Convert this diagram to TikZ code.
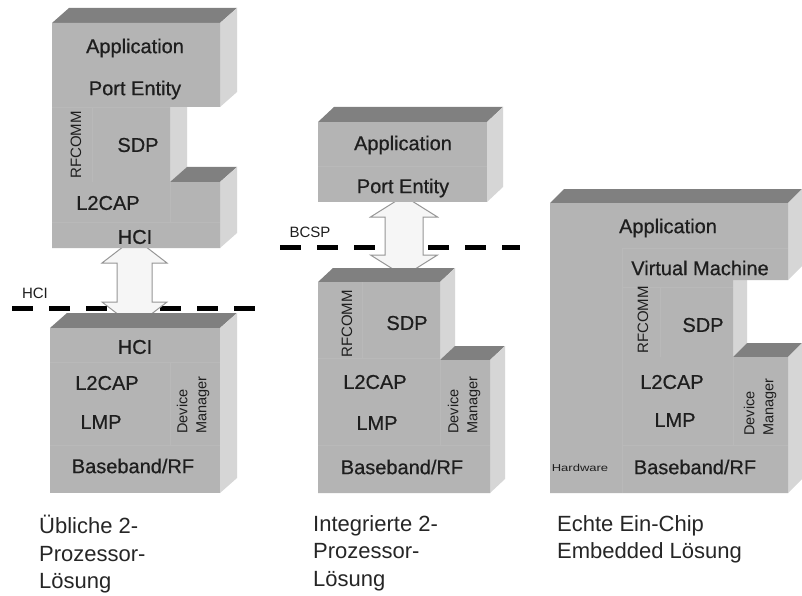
\documentclass[tikz,border=0pt]{standalone}
\usepackage{fontspec}
\setmainfont{Liberation Sans}
\newfontfamily\heavyfont{Liberation Sans}[FakeBold=0.6]
\usetikzlibrary{calc}
\definecolor{frontc}{RGB}{180,180,180}
\definecolor{topc}{RGB}{128,128,128}
\definecolor{sidec}{RGB}{214,214,214}
\definecolor{linec}{RGB}{185,185,185}
\definecolor{txtc}{RGB}{30,30,30}
\definecolor{arrc}{RGB}{150,150,150}
\definecolor{arrfill}{RGB}{246,246,246}
\tikzset{
  frontface/.style={fill=frontc, draw=none},
  topface/.style={fill=topc, draw=none},
  sideface/.style={fill=sidec, draw=none},
  faint/.style={draw=linec, line width=0.6},
  lbl/.style={font=\heavyfont\fontsize{20}{22}\selectfont, text=txtc, inner sep=0},
  smalllbl/.style={font=\fontsize{14.5}{19}\selectfont, text=txtc, inner sep=0, rotate=90, align=left},
  ifacelbl/.style={font=\fontsize{15}{17}\selectfont, text=txtc, inner sep=0},
  dashline/.style={line width=5, dash pattern=on 21 off 16, black},
  blockarrow/.style={draw=arrc, fill=arrfill, line width=1, line join=miter},
  captext/.style={font=\fontsize{22}{27.5}\selectfont, text=black!85, inner sep=0, align=left, anchor=north west}
}
\begin{document}
\begin{tikzpicture}[x=1pt,y=-1pt]
\useasboundingbox (0,0) rectangle (802,596);
\fill[white] (0,0) rectangle (802,596);

% ---------- interface lines ----------
\coordinate (h1) at (12,308);
\coordinate (h2) at (256,308);
\draw[dashline] (h1) -- (h2);
\node[ifacelbl, anchor=center] (hcilbl) at (35,293) {HCI};
\coordinate (b1) at (280,247);
\coordinate (b2) at (520,247);
\draw[dashline] (b1) -- (b2);
\node[ifacelbl, anchor=center] (bcsplbl) at (310,232) {BCSP};

% ---------- block arrows ----------
\coordinate (a1t) at (134.5,238);
\coordinate (a1b) at (134.5,327);
\draw[blockarrow] (a1t) -- ($(a1t)+(32.5,25)$) -- ($(a1t)+(17.5,25)$) -- ($(a1b)+(17.5,-25)$) -- ($(a1b)+(32.5,-25)$) -- (a1b)
  -- ($(a1b)+(-32.5,-25)$) -- ($(a1b)+(-17.5,-25)$) -- ($(a1t)+(-17.5,25)$) -- ($(a1t)+(-32.5,25)$) -- cycle;
\coordinate (a2t) at (404,196);
\coordinate (a2b) at (404,276);
\draw[blockarrow] (a2t) -- ($(a2t)+(33.5,21)$) -- ($(a2t)+(19,21)$) -- ($(a2b)+(19,-21)$) -- ($(a2b)+(33.5,-21)$) -- (a2b)
  -- ($(a2b)+(-33.5,-21)$) -- ($(a2b)+(-19,-21)$) -- ($(a2t)+(-19,21)$) -- ($(a2t)+(-33.5,21)$) -- cycle;

% ---------- Block 1 (top left) ----------
\fill[topface] (52,23) -- (220,23) -- (237,8) -- (69,8) -- cycle;
\fill[sideface] (220,23) -- (237,8) -- (237,92) -- (220,107) -- cycle;
\fill[sideface] (170,107) -- (187,107) -- (187,167) -- (170,182) -- cycle;
\fill[topface] (170,182) -- (220,182) -- (237,167) -- (187,167) -- cycle;
\fill[sideface] (220,182) -- (237,167) -- (237,233) -- (220,248) -- cycle;
\fill[frontface] (52,23) -- (220,23) -- (220,107) -- (170,107) -- (170,182) -- (220,182) -- (220,248) -- (52,248) -- cycle;
\draw[faint] (52,107) -- (170,107);
\draw[faint] (92,107) -- (92,182);
\draw[faint] (170,182) -- (170,222);
\draw[faint] (52,222) -- (220,222);
\node[lbl] (b1app) at (135,48) {Application};
\node[lbl] (b1pe) at (135,90) {Port Entity};
\node[ifacelbl, rotate=90] (b1rf) at (76,145) {RFCOMM};
\node[lbl] (b1sdp) at (138,145) {SDP};
\node[lbl] (b1l2) at (108,203) {L2CAP};
\node[lbl] (b1hci) at (135,237) {HCI};

% ---------- Block 2 (bottom left) ----------
\fill[topface] (50,328) -- (220,328) -- (237,313) -- (67,313) -- cycle;
\fill[sideface] (220,328) -- (237,313) -- (237,478) -- (220,493) -- cycle;
\fill[frontface] (50,328) -- (220,328) -- (220,493) -- (50,493) -- cycle;
\draw[faint] (170,362) -- (170,445);
\draw[faint] (50,362) -- (220,362);
\draw[faint] (50,445) -- (220,445);
\node[lbl] (b2hci) at (135,347) {HCI};
\node[lbl] (b2l2) at (107,383) {L2CAP};
\node[lbl] (b2lmp) at (101,422) {LMP};
\node[lbl] (b2bb) at (133,466) {Baseband/RF};
\node[smalllbl] (b2dm) at (193,405) {Device\\Manager};

% ---------- Block 3 (top middle) ----------
\fill[topface] (318,122) -- (487,122) -- (503,107) -- (334,107) -- cycle;
\fill[sideface] (487,122) -- (503,107) -- (503,187) -- (487,202) -- cycle;
\fill[frontface] (318,122) -- (487,122) -- (487,202) -- (318,202) -- cycle;
\draw[faint] (318,166) -- (487,166);
\node[lbl] (b3app) at (403,145) {Application};
\node[lbl] (b3pe) at (403,188) {Port Entity};

% ---------- Block 4 (bottom middle) ----------
\fill[topface] (318,282) -- (440,282) -- (455,268) -- (333,268) -- cycle;
\fill[sideface] (440,282) -- (455,268) -- (455,346) -- (440,360) -- cycle;
\fill[topface] (440,360) -- (490,360) -- (505,346) -- (455,346) -- cycle;
\fill[sideface] (490,360) -- (505,346) -- (505,479) -- (490,493) -- cycle;
\fill[frontface] (318,282) -- (440,282) -- (440,360) -- (490,360) -- (490,493) -- (318,493) -- cycle;
\draw[faint] (362,282) -- (362,358);
\draw[faint] (318,358) -- (440,358);
\draw[faint] (440,360) -- (440,445);
\draw[faint] (318,445) -- (490,445);
\node[smalllbl, font=\fontsize{15}{17}\selectfont] (b4rf) at (347,324) {RFCOMM};
\node[lbl] (b4sdp) at (407,323) {SDP};
\node[lbl] (b4l2) at (375,382) {L2CAP};
\node[lbl] (b4lmp) at (377,423) {LMP};
\node[lbl] (b4bb) at (402,467) {Baseband/RF};
\node[smalllbl] (b4dm) at (464,405) {Device\\Manager};

% ---------- Block 5 (right) ----------
\fill[topface] (550,203) -- (788,203) -- (802,189) -- (564,189) -- cycle;
\fill[sideface] (788,203) -- (802,189) -- (802,266) -- (788,280) -- cycle;
\fill[sideface] (733,280) -- (747,280) -- (747,343) -- (733,357) -- cycle;
\fill[topface] (733,357) -- (788,357) -- (802,343) -- (747,343) -- cycle;
\fill[sideface] (788,357) -- (802,343) -- (802,479) -- (788,493) -- cycle;
\fill[frontface] (550,203) -- (788,203) -- (788,280) -- (733,280) -- (733,357) -- (788,357) -- (788,493) -- (550,493) -- cycle;
\draw[faint] (622,248) -- (622,493);
\draw[faint] (622,248) -- (788,248);
\draw[faint] (622,287) -- (733,287);
\draw[faint] (660,287) -- (660,357);
\draw[faint] (733,357) -- (733,445);
\draw[faint] (622,445) -- (788,445);
\node[lbl] (b5app) at (668,228) {Application};
\node[lbl] (b5vm) at (700,268) {Virtual Machine};
\node[smalllbl, font=\fontsize{15}{17}\selectfont] (b5rf) at (643,320) {RFCOMM};
\node[lbl] (b5sdp) at (703,325) {SDP};
\node[lbl] (b5l2) at (672,382) {L2CAP};
\node[lbl] (b5lmp) at (675,420) {LMP};
\node[lbl] (b5bb) at (695,467) {Baseband/RF};
\node[lbl, font=\fontsize{10}{12}\selectfont] (b5hw) at (580,468) {\scalebox{1.3}[1]{Hardware}};
\node[smalllbl] (b5dm) at (760,407) {Device\\Manager};

% ---------- captions ----------
\node[captext] (c1) at (39,515) {Übliche 2-\\Prozessor-\\Lösung};
\node[captext] (c2) at (313,515) {Integrierte 2-\\Prozessor-\\Lösung};
\node[captext] (c3) at (557,515) {Echte Ein-Chip\\Embedded Lösung};
\end{tikzpicture}
\end{document}
